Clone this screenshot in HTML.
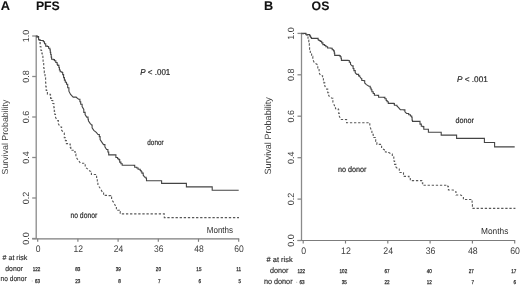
<!DOCTYPE html><html><head><meta charset="utf-8"><style>html,body{margin:0;padding:0;background:#fff;}svg{display:block;will-change:transform;}text{font-family:"Liberation Sans",sans-serif;text-rendering:geometricPrecision;stroke:#2a2a2a;stroke-width:0.1px;}</style></head><body>
<svg width="520" height="285" viewBox="0 0 520 285">
<rect width="520" height="285" fill="#fff"/>
<text x="0.7" y="10.3" font-size="12.8" font-weight="bold" fill="#111">A</text>
<text x="35.9" y="10.3" font-size="12.3" font-weight="bold" fill="#111">PFS</text>
<text x="264.1" y="10.2" font-size="12.7" font-weight="bold" fill="#111">B</text>
<text x="311.6" y="9.9" font-size="12.3" font-weight="bold" fill="#111">OS</text>
<g stroke="#8a8a8a" stroke-width="1.3" fill="none">
<path d="M36.2 35.5 V238.8"/>
<path d="M32.2 238.8 H239.2" stroke="#7c7c7c" stroke-width="1.15"/>
<path d="M32.2 36.0 H36.2"/>
<path d="M32.2 76.5 H36.2"/>
<path d="M32.2 117.0 H36.2"/>
<path d="M32.2 157.5 H36.2"/>
<path d="M32.2 198.0 H36.2"/>
<path d="M32.2 238.5 H36.2"/>
<path d="M37.7 238.8 V241.8" stroke="#7c7c7c" stroke-width="1.15"/>
<path d="M77.9 238.8 V241.8" stroke="#7c7c7c" stroke-width="1.15"/>
<path d="M118.1 238.8 V241.8" stroke="#7c7c7c" stroke-width="1.15"/>
<path d="M158.3 238.8 V241.8" stroke="#7c7c7c" stroke-width="1.15"/>
<path d="M198.5 238.8 V241.8" stroke="#7c7c7c" stroke-width="1.15"/>
<path d="M238.7 238.8 V241.8" stroke="#7c7c7c" stroke-width="1.15"/>
</g>
<text x="29.2" y="36.0" font-size="9" fill="#404040" style="stroke:none" text-anchor="middle" transform="rotate(-90 29.2 36.0)">1.0</text>
<text x="29.2" y="76.5" font-size="9" fill="#404040" style="stroke:none" text-anchor="middle" transform="rotate(-90 29.2 76.5)">0.8</text>
<text x="29.2" y="117.0" font-size="9" fill="#404040" style="stroke:none" text-anchor="middle" transform="rotate(-90 29.2 117.0)">0.6</text>
<text x="29.2" y="157.5" font-size="9" fill="#404040" style="stroke:none" text-anchor="middle" transform="rotate(-90 29.2 157.5)">0.4</text>
<text x="29.2" y="198.0" font-size="9" fill="#404040" style="stroke:none" text-anchor="middle" transform="rotate(-90 29.2 198.0)">0.2</text>
<text x="29.2" y="238.5" font-size="9" fill="#404040" style="stroke:none" text-anchor="middle" transform="rotate(-90 29.2 238.5)">0.0</text>
<text x="8.0" y="137.0" font-size="8.80" fill="#404040" style="stroke:none" text-anchor="middle" transform="rotate(-90 8.0 137.0)">Survival Probability</text>
<text transform="translate(38.10 252.10) scale(0.890 1)" font-size="9.60" fill="#404040" style="stroke:none" text-anchor="middle">0</text>
<text transform="translate(78.30 252.10) scale(0.890 1)" font-size="9.60" fill="#404040" style="stroke:none" text-anchor="middle">12</text>
<text transform="translate(118.50 252.10) scale(0.890 1)" font-size="9.60" fill="#404040" style="stroke:none" text-anchor="middle">24</text>
<text transform="translate(158.70 252.10) scale(0.890 1)" font-size="9.60" fill="#404040" style="stroke:none" text-anchor="middle">36</text>
<text transform="translate(198.90 252.10) scale(0.890 1)" font-size="9.60" fill="#404040" style="stroke:none" text-anchor="middle">48</text>
<text transform="translate(239.10 252.10) scale(0.890 1)" font-size="9.60" fill="#404040" style="stroke:none" text-anchor="middle">60</text>
<rect x="31.7" y="280.5" width="1" height="1" fill="#bbb"/>
<text transform="translate(36.50 271.20) scale(0.820 1)" font-size="5.60" fill="#2a2a2a" style="stroke-width:0.25px" text-anchor="middle">122</text>
<text transform="translate(37.50 282.70) scale(0.820 1)" font-size="5.60" fill="#2a2a2a" style="stroke-width:0.25px" text-anchor="middle">63</text>
<text transform="translate(77.70 271.20) scale(0.820 1)" font-size="5.60" fill="#2a2a2a" style="stroke-width:0.25px" text-anchor="middle">83</text>
<text transform="translate(77.70 282.70) scale(0.820 1)" font-size="5.60" fill="#2a2a2a" style="stroke-width:0.25px" text-anchor="middle">23</text>
<text transform="translate(118.20 271.20) scale(0.820 1)" font-size="5.60" fill="#2a2a2a" style="stroke-width:0.25px" text-anchor="middle">39</text>
<text transform="translate(119.50 282.70) scale(0.820 1)" font-size="5.60" fill="#2a2a2a" style="stroke-width:0.25px" text-anchor="middle">8</text>
<text transform="translate(158.40 271.20) scale(0.820 1)" font-size="5.60" fill="#2a2a2a" style="stroke-width:0.25px" text-anchor="middle">20</text>
<text transform="translate(159.40 282.70) scale(0.820 1)" font-size="5.60" fill="#2a2a2a" style="stroke-width:0.25px" text-anchor="middle">7</text>
<text transform="translate(198.90 271.20) scale(0.820 1)" font-size="5.60" fill="#2a2a2a" style="stroke-width:0.25px" text-anchor="middle">15</text>
<text transform="translate(199.80 282.70) scale(0.820 1)" font-size="5.60" fill="#2a2a2a" style="stroke-width:0.25px" text-anchor="middle">6</text>
<text transform="translate(238.70 271.20) scale(0.820 1)" font-size="5.60" fill="#2a2a2a" style="stroke-width:0.25px" text-anchor="middle">11</text>
<text transform="translate(239.70 282.70) scale(0.820 1)" font-size="5.60" fill="#2a2a2a" style="stroke-width:0.25px" text-anchor="middle">5</text>
<path d="M36.0 36.0 H37.4 V36.6 H38.6 V39.6 H39.9 V40.5 H41.6 V40.5 H43.3 V41.7 H44.5 V43.8 H45.7 V46.1 H47.4 V46.5 H48.6 V48.2 H49.9 V49.9 H50.3 V52.4 H50.7 V54.5 H51.2 V57.1 H51.6 V59.2 H53.3 V59.6 H54.5 V60.8 H55.8 V62.5 H57.1 V64.2 H57.7 V65.4 H58.9 V67.5 H59.4 V70.0 H60.2 V71.7 H61.9 V72.5 H62.7 V74.6 H63.6 V77.6 H64.4 V80.1 H65.3 V82.2 H66.5 V84.3 H67.7 V87.8 H68.9 V91.2 L70.6 94.5 L73.2 97.1 H76.1 V97.3 L78.6 99.2 H79.9 V101.7 H80.7 V104.2 H82.1 V106.5 L83.8 109.5 H83.8 V112.4 H85.1 V114.5 L86.7 117.1 H88.0 V119.2 H88.4 V120.8 L90.1 123.4 L91.8 125.1 H92.1 V127.8 L93.8 130.3 L96.3 132.4 L98.0 134.5 H99.3 V136.6 H100.1 V139.6 L101.8 142.1 L103.5 144.6 H104.9 V146.9 L106.6 149.5 H107.9 V152.0 H108.7 V154.9 H114.6 V154.9 H115.9 V157.5 H117.6 V158.7 H118.8 V159.6 H119.7 V162.1 H120.9 V163.8 H122.2 V165.3 H134.3 V165.4 H134.7 V167.2 H136.8 V168.0 H138.1 V169.3 H140.2 V170.5 H141.1 V171.8 H141.9 V173.1 H143.2 V175.2 L144.8 177.3 H146.1 V178.5 H146.5 V180.8 H161.3 V180.8 H161.6 V183.4 H186.1 V183.4 H186.4 V186.9 H211.9 V186.9 H212.2 V190.3 H238.7 V190.3" stroke="#444" stroke-width="1.1" fill="none"/>
<path d="M36.0 36.0 L38.9 39.8 H39.7 V42.6 H40.2 V46.7 H41.0 V50.5 H41.6 V53.0 H42.2 V56.2 H42.9 V59.3 H43.1 V61.9 H43.7 V68.2 H44.3 V72.7 H45.0 V77.7 H45.6 V82.8 H45.8 V86.6 H46.2 V90.4 H47.4 V94.2 H50.3 V95.1 H50.6 V98.4 H51.6 V100.5 H52.8 V103.5 H53.9 V107.7 H54.3 V111.4 H54.6 V114.3 H55.5 V117.3 L57.4 120.6 H58.4 V123.8 L60.1 127.0 H61.6 V130.2 L64.1 133.1 H64.3 V137.7 H65.4 V140.6 H66.4 V143.6 H69.8 V144.0 H70.2 V147.4 H70.8 V150.2 H73.8 V151.5 H75.1 V154.0 H75.9 V156.9 L78.0 159.9 L80.5 163.3 H84.7 V164.1 H85.2 V167.2 L87.8 169.1 L89.9 171.2 H91.4 V174.5 H96.2 V174.5 H96.6 V177.5 H97.3 V182.1 H97.9 V185.1 L100.2 188.2 L102.3 192.0 H103.6 V195.4 H108.2 V195.6 H110.7 V197.1 H111.6 V199.6 L113.8 202.6 L115.6 206.3 H116.4 V210.3 H119.4 V211.6 H120.2 V213.9 H164.0 V213.9 H164.3 V217.6 H239.0 V217.6" stroke="#585858" stroke-width="1.1" fill="none" stroke-dasharray="2.3 1.8"/>
<g stroke="#8a8a8a" stroke-width="1.3" fill="none">
<path d="M301.5 32.9 V240.5"/>
<path d="M297.5 240.5 H515.2" stroke="#7c7c7c" stroke-width="1.15"/>
<path d="M297.5 33.4 H301.5"/>
<path d="M297.5 74.8 H301.5"/>
<path d="M297.5 116.2 H301.5"/>
<path d="M297.5 157.7 H301.5"/>
<path d="M297.5 199.1 H301.5"/>
<path d="M297.5 240.5 H301.5"/>
<path d="M303.2 240.5 V243.5" stroke="#7c7c7c" stroke-width="1.15"/>
<path d="M345.5 240.5 V243.5" stroke="#7c7c7c" stroke-width="1.15"/>
<path d="M387.8 240.5 V243.5" stroke="#7c7c7c" stroke-width="1.15"/>
<path d="M430.1 240.5 V243.5" stroke="#7c7c7c" stroke-width="1.15"/>
<path d="M472.4 240.5 V243.5" stroke="#7c7c7c" stroke-width="1.15"/>
<path d="M514.7 240.5 V243.5" stroke="#7c7c7c" stroke-width="1.15"/>
</g>
<text x="294.1" y="33.4" font-size="9" fill="#404040" style="stroke:none" text-anchor="middle" transform="rotate(-90 294.1 33.4)">1.0</text>
<text x="294.1" y="74.8" font-size="9" fill="#404040" style="stroke:none" text-anchor="middle" transform="rotate(-90 294.1 74.8)">0.8</text>
<text x="294.1" y="116.2" font-size="9" fill="#404040" style="stroke:none" text-anchor="middle" transform="rotate(-90 294.1 116.2)">0.6</text>
<text x="294.1" y="157.7" font-size="9" fill="#404040" style="stroke:none" text-anchor="middle" transform="rotate(-90 294.1 157.7)">0.4</text>
<text x="294.1" y="199.1" font-size="9" fill="#404040" style="stroke:none" text-anchor="middle" transform="rotate(-90 294.1 199.1)">0.2</text>
<text x="294.1" y="240.5" font-size="9" fill="#404040" style="stroke:none" text-anchor="middle" transform="rotate(-90 294.1 240.5)">0.0</text>
<text x="271.2" y="135.8" font-size="9.10" fill="#404040" style="stroke:none" text-anchor="middle" transform="rotate(-90 271.2 135.8)">Survival Probability</text>
<text transform="translate(303.60 253.60) scale(0.920 1)" font-size="9.50" fill="#404040" style="stroke:none" text-anchor="middle">0</text>
<text transform="translate(345.90 253.60) scale(0.920 1)" font-size="9.50" fill="#404040" style="stroke:none" text-anchor="middle">12</text>
<text transform="translate(388.20 253.60) scale(0.920 1)" font-size="9.50" fill="#404040" style="stroke:none" text-anchor="middle">24</text>
<text transform="translate(430.50 253.60) scale(0.920 1)" font-size="9.50" fill="#404040" style="stroke:none" text-anchor="middle">36</text>
<text transform="translate(472.80 253.60) scale(0.920 1)" font-size="9.50" fill="#404040" style="stroke:none" text-anchor="middle">48</text>
<text transform="translate(515.10 253.60) scale(0.920 1)" font-size="9.50" fill="#404040" style="stroke:none" text-anchor="middle">60</text>
<rect x="296.2" y="281.8" width="1" height="1" fill="#bbb"/>
<text transform="translate(301.30 272.60) scale(0.820 1)" font-size="5.60" fill="#2a2a2a" style="stroke-width:0.25px" text-anchor="middle">122</text>
<text transform="translate(302.00 284.00) scale(0.820 1)" font-size="5.60" fill="#2a2a2a" style="stroke-width:0.25px" text-anchor="middle">63</text>
<text transform="translate(343.40 272.60) scale(0.820 1)" font-size="5.60" fill="#2a2a2a" style="stroke-width:0.25px" text-anchor="middle">102</text>
<text transform="translate(344.20 284.00) scale(0.820 1)" font-size="5.60" fill="#2a2a2a" style="stroke-width:0.25px" text-anchor="middle">35</text>
<text transform="translate(387.00 272.60) scale(0.820 1)" font-size="5.60" fill="#2a2a2a" style="stroke-width:0.25px" text-anchor="middle">67</text>
<text transform="translate(387.00 284.00) scale(0.820 1)" font-size="5.60" fill="#2a2a2a" style="stroke-width:0.25px" text-anchor="middle">22</text>
<text transform="translate(429.30 272.60) scale(0.820 1)" font-size="5.60" fill="#2a2a2a" style="stroke-width:0.25px" text-anchor="middle">40</text>
<text transform="translate(429.30 284.00) scale(0.820 1)" font-size="5.60" fill="#2a2a2a" style="stroke-width:0.25px" text-anchor="middle">12</text>
<text transform="translate(471.20 272.60) scale(0.820 1)" font-size="5.60" fill="#2a2a2a" style="stroke-width:0.25px" text-anchor="middle">27</text>
<text transform="translate(472.80 284.00) scale(0.820 1)" font-size="5.60" fill="#2a2a2a" style="stroke-width:0.25px" text-anchor="middle">7</text>
<text transform="translate(513.70 272.60) scale(0.820 1)" font-size="5.60" fill="#2a2a2a" style="stroke-width:0.25px" text-anchor="middle">17</text>
<text transform="translate(514.80 284.00) scale(0.820 1)" font-size="5.60" fill="#2a2a2a" style="stroke-width:0.25px" text-anchor="middle">6</text>
<path d="M301.5 33.4 H303.4 V33.4 H305.9 V34.2 H306.7 V34.6 H308.4 V34.6 H309.7 V35.9 H310.5 V37.2 H311.4 V38.4 H316.8 V38.4 H318.1 V39.7 H318.9 V40.5 H320.2 V41.4 H321.7 V42.9 H322.9 V44.6 H324.6 V45.5 H325.9 V46.7 H327.6 V48.0 H330.9 V48.3 H332.2 V49.7 H333.5 V50.9 H334.3 V53.1 H334.7 V55.4 H339.4 V55.6 H340.2 V56.8 H341.1 V58.5 H341.4 V60.4 H348.0 V60.5 H349.3 V62.2 H350.5 V64.3 L352.2 65.9 H353.1 V68.5 H353.9 V70.6 H355.2 V72.7 L356.8 74.4 H358.6 V75.9 H359.7 V76.6 L361.4 78.7 H361.8 V80.5 H363.9 V80.8 H364.7 V82.9 L366.4 84.6 L368.9 86.3 H370.2 V88.0 H371.1 V89.7 H371.9 V91.8 H373.2 V93.5 H374.4 V95.2 H377.8 V95.4 H378.6 V97.3 H384.1 V97.4 H384.9 V98.8 H386.2 V100.5 H387.1 V101.8 H388.3 V103.4 H393.8 V103.6 H394.4 V105.2 H396.9 V105.9 L398.6 107.6 L400.3 109.7 H403.7 V109.9 H404.9 V111.8 L406.6 113.5 H408.7 V114.7 H410.4 V116.0 H411.7 V117.3 H412.1 V120.2 H412.5 V121.4 H419.2 V121.4 H420.0 V124.1 H421.3 V126.2 H422.9 V126.6 H423.8 V129.2 H427.6 V129.3 H428.4 V132.3 H440.7 V132.3 H441.2 V135.1 H456.3 V135.1 H456.6 V138.4 H484.0 V138.4 H484.4 V142.5 H494.2 V142.5 H494.6 V146.9 H514.7 V146.9" stroke="#444" stroke-width="1.1" fill="none"/>
<path d="M301.5 33.4 L307.2 35.1 H307.6 V35.9 H308.0 V40.1 H308.8 V43.5 H309.3 V46.8 H309.6 V49.5 H310.3 V53.1 H311.6 V56.4 H312.8 V59.6 L314.5 63.0 L317.4 64.6 H317.8 V69.5 H319.1 V72.8 L320.7 75.8 H322.6 V76.8 H323.3 V77.6 H323.4 V80.0 H323.9 V82.9 H324.8 V86.0 L326.6 89.1 H327.7 V92.8 H328.7 V95.8 L331.9 98.3 H332.9 V102.1 L334.5 105.8 H335.5 V108.7 H338.2 V109.7 H338.7 V113.4 H339.2 V116.0 L340.8 119.5 H346.2 V119.6 H346.6 V122.7 H368.3 V122.7 H369.8 V126.3 L371.5 130.5 H371.9 V134.3 H373.2 V137.5 H375.2 V138.6 H375.7 V141.5 H376.9 V144.4 H381.2 V144.4 H381.6 V148.2 L384.5 149.9 H385.4 V152.0 H388.7 V152.4 L391.3 154.1 H392.3 V156.2 H393.8 V158.5 H393.8 V161.0 H394.6 V164.4 H395.9 V167.0 L398.0 169.0 H399.3 V172.5 H403.1 V172.8 H403.5 V176.4 H409.0 V177.0 H410.3 V180.6 H421.8 V180.8 H422.3 V182.9 H422.7 V185.3 H446.8 V185.3 H447.8 V186.6 H448.4 V190.0 H453.3 V190.0 L455.4 191.7 H456.0 V195.0 H460.8 V195.0 L463.3 196.9 H463.4 V199.5 H471.7 V199.5 H472.1 V204.5 H472.4 V208.4 H515.4 V208.4" stroke="#585858" stroke-width="1.1" fill="none" stroke-dasharray="2.3 1.8"/>
<text transform="translate(140.30 74.90) scale(0.930 1)" font-size="8.60" fill="#2a2a2a" style="stroke-width:0.2px"><tspan font-style="italic">P</tspan> &lt; .001</text>
<text transform="translate(457.00 82.20) scale(1.000 1)" font-size="8.20" fill="#2a2a2a" style="stroke-width:0.2px"><tspan font-style="italic">P</tspan> &lt; .001</text>
<text transform="translate(147.30 145.30) scale(0.810 1)" font-size="7.90" fill="#2a2a2a" style="stroke-width:0.2px">donor</text>
<text transform="translate(70.40 218.00) scale(0.830 1)" font-size="8.20" fill="#2a2a2a" style="stroke-width:0.2px">no donor</text>
<text transform="translate(455.60 123.20) scale(0.900 1)" font-size="8.00" fill="#2a2a2a" style="stroke-width:0.2px">donor</text>
<text transform="translate(337.90 172.20) scale(0.900 1)" font-size="8.00" fill="#2a2a2a" style="stroke-width:0.2px">no donor</text>
<text transform="translate(206.80 232.80) scale(0.900 1)" font-size="8.90" fill="#2a2a2a" style="stroke:none" fill-opacity="1">Months</text>
<text transform="translate(481.00 234.00) scale(0.960 1)" font-size="8.70" fill="#2a2a2a" style="stroke:none" fill-opacity="1">Months</text>
<text transform="translate(2.60 260.20) scale(0.980 1)" font-size="7.20" fill="#2a2a2a" style="stroke-width:0.15px"># at risk</text>
<text transform="translate(5.30 271.10) scale(0.940 1)" font-size="7.30" fill="#2a2a2a" style="stroke-width:0.15px">donor</text>
<text transform="translate(0.60 281.00) scale(0.890 1)" font-size="7.40" fill="#2a2a2a" style="stroke-width:0.15px">no donor</text>
<text transform="translate(266.60 261.70) scale(0.990 1)" font-size="7.50" fill="#2a2a2a" style="stroke-width:0.15px"># at risk</text>
<text transform="translate(270.00 272.80) scale(0.920 1)" font-size="7.80" fill="#2a2a2a" style="stroke-width:0.15px">donor</text>
<text transform="translate(263.90 283.80) scale(0.920 1)" font-size="7.90" fill="#2a2a2a" style="stroke-width:0.15px">no donor</text>
</svg></body></html>
